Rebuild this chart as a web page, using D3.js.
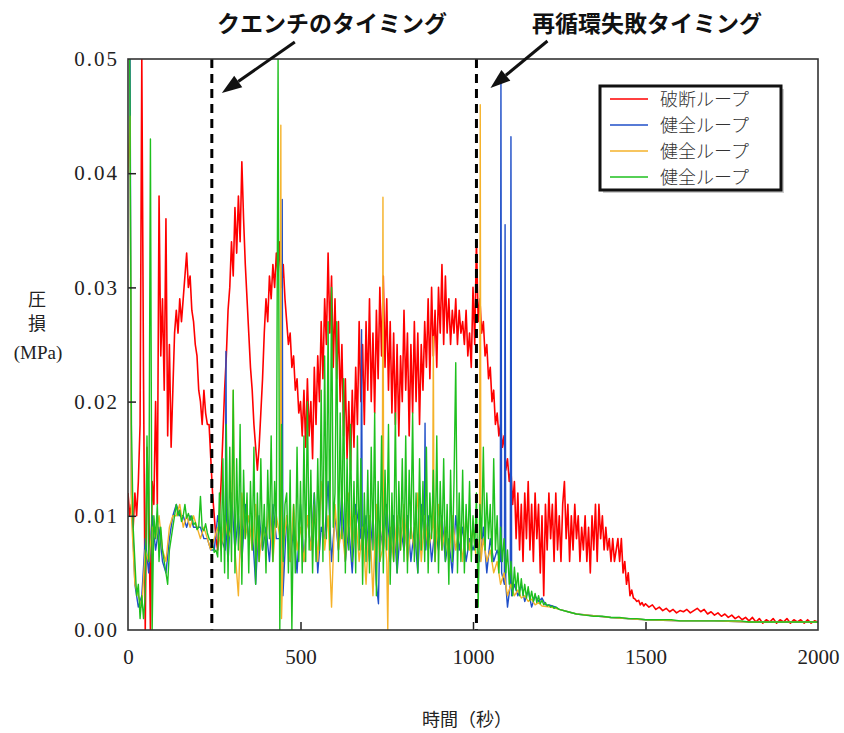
<!DOCTYPE html>
<html><head><meta charset="utf-8">
<script src="https://cdn.jsdelivr.net/npm/d3@7"></script>
<style>body{margin:0;background:#fff}svg{display:block}</style>
</head><body>
<svg id="c" width="844" height="733"></svg>
<script>
// ---------------- DATA ----------------
const xTicks = [0, 500, 1000, 1500, 2000];
const yTicks = [0, 0.01, 0.02, 0.03, 0.04, 0.05];
const seriesNames = ["破断ループ", "健全ループ", "健全ループ", "健全ループ"];
const seriesColors = ["#ff0000", "#1f4fc8", "#f5b22a", "#1ec01e"];
const quenchTime = 243;      // クエンチのタイミング
const recircFailTime = 1010; // 再循環失敗タイミング

// 破断ループ (red): 0-1500 s every 5 s, 1510-2000 s every 10 s
const redT = [...d3.range(0, 1505, 5), ...d3.range(1510, 2001, 10)];
const redV = [
 .012,.010,.011,.009,.012,.010,.013,.018,.050,.022,
 .000,.016,.012,.000,.013,.011,.020,.011,.038,.024,
 .029,.021,.036,.017,.025,.016,.021,.026,.028,.026,
 .029,.027,.029,.031,.033,.030,.031,.028,.027,.025,
 .024,.021,.020,.018,.021,.019,.018,.018,.015,.012,
 .010,.008,.007,.010,.013,.017,.021,.024,.028,.030,
 .034,.031,.037,.033,.038,.034,.041,.036,.032,.029,
 .026,.023,.021,.018,.016,.014,.016,.019,.022,.026,
 .029,.027,.031,.029,.032,.030,.033,.031,.034,.030,
 .032,.029,.027,.025,.026,.023,.024,.021,.022,.019,
 .020,.017,.021,.016,.022,.017,.020,.015,.023,.018,
 .024,.020,.027,.022,.029,.025,.033,.026,.031,.023,
 .029,.022,.027,.020,.025,.017,.022,.015,.020,.014,
 .021,.016,.023,.018,.027,.020,.025,.018,.027,.021,
 .029,.020,.026,.019,.028,.022,.030,.024,.031,.023,
 .029,.021,.027,.019,.026,.018,.025,.017,.024,.020,
 .028,.021,.026,.017,.025,.019,.027,.020,.026,.018,
 .025,.021,.027,.023,.029,.022,.030,.024,.028,.023,
 .030,.026,.032,.025,.031,.026,.029,.025,.028,.026,
 .029,.025,.028,.026,.027,.025,.028,.024,.026,.023,
 .030,.025,.034,.027,.029,.026,.027,.024,.025,.022,
 .023,.020,.021,.018,.019,.017,.018,.016,.017,.014,
 .015,.013,.014,.011,.013,.008,.012,.007,.011,.006,
 .012,.008,.013,.007,.011,.006,.012,.008,.011,.005,
 .010,.003,.011,.007,.012,.008,.011,.006,.012,.007,
 .010,.006,.011,.013,.008,.011,.006,.010,.007,.011,
 .008,.010,.006,.009,.007,.010,.006,.009,.005,.010,
 .007,.011,.006,.011,.008,.010,.007,.009,.007,.008,
 .006,.008,.006,.007,.008,.006,.008,.005,.006,.004,
 .005,.003,.0035,.0028,.0027,.0025,.0026,.0022,.0024,.0021,
 .0023,
 .0020,.0022,.0018,.0020,.0017,.0019,.0016,.0018,.0015,.0017,
 .0016,.0018,.0015,.0017,.0019,.0016,.0018,.0014,.0016,.0013,
 .0015,.0012,.0014,.0011,.0013,.0010,.0012,.0009,.0011,.0008,
 .0011,.0007,.0010,.0006,.0009,.0007,.0010,.0006,.0009,.0007,
 .0010,.0006,.0009,.0007,.0009,.0006,.0009,.0006,.0008,.0007
];

// 健全ループ (blue)
const blueT = [0,6,10,20,30,40,50,60,70,80,90,
 100,110,120,130,140,150,160,170,180,190,
 200,210,220,230,240,250,260,270,282,284,286,290,
 300,310,320,330,340,350,360,370,380,390,
 400,410,420,430,445,447,449,460,470,480,490,
 500,510,520,530,540,550,560,570,580,590,
 600,610,620,630,640,650,660,675,677,679,690,
 700,710,720,726,730,740,750,760,770,780,790,
 800,810,820,830,840,850,859,861,863,870,880,890,
 900,910,920,930,940,950,960,970,980,990,
 1000,1010,1020,1030,1040,1050,1060,1070,1079,1081,1083,1091,1093,1095,1100,1108,1110,1112,
 1120,1130,1140,1150,1160,1170,1180,1190,1200,1210,1220,1230,1240,1250,
 1300,1400,1500,1600,1700,1800,1900,2000];
const blueV = [.050,.050,.012,.004,.002,.003,.008,.005,.010,.007,.009,
 .006,.005,.008,.010,.011,.010,.010,.009,.010,.009,
 .009,.009,.008,.008,.007,.007,.010,.008,.007,.0244,.008,.006,
 .012,.007,.010,.006,.011,.008,.009,.004,.010,.007,
 .009,.006,.011,.008,.008,.0377,.003,.010,.006,.009,.005,
 .011,.006,.010,.007,.012,.005,.009,.008,.013,.006,
 .010,.007,.012,.006,.009,.005,.011,.008,.0263,.007,.010,
 .006,.010,.004,.0023,.009,.007,.011,.006,.010,.005,.009,
 .007,.010,.006,.009,.005,.011,.008,.0181,.007,.010,.006,.009,
 .007,.010,.006,.008,.005,.010,.007,.009,.006,.008,
 .007,.008,.006,.009,.005,.008,.006,.007,.006,.048,.005,.004,.0355,.004,.002,.004,.0432,.003,
 .004,.003,.004,.0025,.0035,.002,.003,.0025,.0028,.0022,.0022,.0021,.002,.0018,
 .0014,.0011,.0009,.0008,.0008,.0007,.0007,.0007];

// 健全ループ (orange)
const orangeT = [0,6,10,20,30,40,50,60,70,80,90,
 100,110,120,130,140,150,160,170,180,190,
 200,210,220,230,240,250,260,270,280,290,
 300,305,310,320,330,340,350,360,370,380,390,
 400,410,420,430,441,443,445,450,460,470,480,490,
 500,510,520,530,540,550,560,570,580,590,
 600,610,620,630,640,650,660,670,680,690,
 700,710,720,730,737,739,741,750,753,756,760,770,780,790,
 800,810,820,830,840,850,860,870,883,885,887,890,
 900,910,920,930,940,950,960,970,980,990,
 1000,1010,1019,1021,1023,1030,1040,1050,1060,1070,1080,1090,1100,
 1110,1120,1130,1140,1150,1160,1170,1180,1190,1200,1225,1250,
 1300,1400,1500,1600,1700,1800,1900,2000];
const orangeV = [.040,.045,.010,.004,.003,.002,.007,.006,.009,.008,.010,
 .007,.006,.009,.010,.010,.011,.009,.010,.009,.010,
 .009,.008,.009,.008,.007,.008,.009,.007,.010,.008,
 .009,.021,.007,.003,.012,.008,.010,.007,.011,.006,.009,
 .008,.011,.006,.010,.008,.0442,.001,.007,.010,.006,.011,.007,
 .009,.006,.010,.007,.011,.006,.013,.007,.010,.002,
 .011,.007,.009,.006,.012,.007,.010,.006,.009,.004,
 .010,.003,.011,.006,.007,.0379,.010,.006,.000,.008,.009,.006,.010,.007,
 .011,.006,.009,.007,.012,.006,.010,.007,.009,.0257,.008,.006,
 .011,.007,.009,.006,.010,.007,.009,.006,.010,.007,
 .009,.006,.008,.046,.006,.008,.006,.007,.005,.006,.004,.005,.003,
 .004,.003,.0035,.0028,.003,.0025,.0027,.0022,.0024,.0021,.002,.0018,
 .0014,.0011,.0009,.0008,.0008,.0007,.0007,.0007];

// 健全ループ (green): 0-1250 s every 5 s, 1275-2000 s every 25 s
const greenT = [...d3.range(0, 1255, 5), ...d3.range(1275, 2001, 25)];
const greenV = [
 .050,.050,.018,.009,.006,.003,.004,.001,.003,.001,
 .003,.017,.006,.043,.000,.010,.008,.011,.006,.009,
 .007,.006,.005,.004,.007,.008,.009,.010,.011,.010,
 .0105,.0095,.0100,.0110,.0098,.0102,.0096,.0100,.0092,.0094,
 .0088,.0090,.0117,.0089,.0087,.0093,.0085,.0080,.0078,.0075,
 .0068,.0070,.0064,.0120,.0060,.0150,.0050,.0180,.0045,.0160,
 .0060,.0210,.0050,.0150,.0070,.0180,.0040,.0140,.0080,.0120,
 .0050,.0130,.0070,.0160,.0040,.0120,.0060,.0150,.0070,.0110,
 .0050,.0140,.0080,.0170,.0060,.0130,.0090,.0500,.0000,.0180,
 .0060,.0110,.0120,.0050,.0140,.0000,.0110,.0050,.0160,.0060,
 .0130,.0050,.0170,.0060,.0200,.0070,.0140,.0050,.0120,.0060,
 .0150,.0070,.0210,.0060,.0240,.0080,.0270,.0070,.0300,.0090,
 .0120,.0270,.0060,.0190,.0080,.0220,.0050,.0150,.0070,.0180,
 .0060,.0130,.0050,.0170,.0070,.0150,.0040,.0120,.0060,.0140,
 .0050,.0160,.0070,.0190,.0030,.0130,.0060,.0170,.0050,.0140,
 .0070,.0180,.0040,.0120,.0060,.0190,.0050,.0130,.0070,.0150,
 .0060,.0170,.0050,.0140,.0080,.0190,.0060,.0120,.0050,.0150,
 .0070,.0130,.0060,.0160,.0050,.0120,.0080,.0140,.0060,.0170,
 .0050,.0130,.0070,.0150,.0060,.0110,.0040,.0140,.0060,.0130,
 .0234,.0050,.0120,.0060,.0140,.0050,.0110,.0070,.0130,.0060,
 .0100,.0070,.0120,.0020,.0110,.0080,.0160,.0070,.0120,.0080,
 .0110,.0060,.0150,.0070,.0100,.0050,.0090,.0060,.0080,.0050,
 .0070,.0040,.0060,.0030,.0055,.0035,.0050,.0030,.0045,.0030,
 .0040,.0028,.0038,.0026,.0034,.0025,.0032,.0024,.0030,.0023,
 .0026,.0022,.0024,.0021,.0022,.0020,.0021,.0019,.0020,.0019,
 .0018,
 .0016,.0014,.0013,.0012,.0012,.0011,.0011,.0010,.0010,.0009,
 .0009,.0009,.0009,.0008,.0008,.0008,.0008,.0008,.0008,.0008,
 .0008,.0007,.0007,.0007,.0007,.0007,.0007,.0007,.0007,.0007
];

// ---------------- CHART ----------------
const svg = d3.select("#c");
const x = d3.scaleLinear().domain([0, 2000]).range([128, 818]);
const y = d3.scaleLinear().domain([0, 0.05]).range([630, 59]);
const [x0, x1] = x.range(), [y0, y1] = y.range();

svg.append("defs").append("clipPath").attr("id", "clip")
  .append("rect").attr("x", x0).attr("y", y1).attr("width", x1 - x0).attr("height", y0 - y1);

const series = [
  {t: redT, v: redV}, {t: blueT, v: blueV}, {t: orangeT, v: orangeV}, {t: greenT, v: greenV}
];
const line = d3.line().x(d => x(d[0])).y(d => y(d[1]));
const g = svg.append("g").attr("clip-path", "url(#clip)");
series.forEach((s, i) => {
  const pts = d3.zip(s.t, s.v);
  g.append("path").datum(pts).attr("d", line)
    .attr("fill", "none").attr("stroke", seriesColors[i])
    .attr("stroke-width", i === 0 ? 1.6 : 1.4).attr("stroke-linejoin", "round");
});

// timing dashed lines
[quenchTime, recircFailTime].forEach(t => {
  svg.append("line").attr("x1", x(t)).attr("x2", x(t)).attr("y1", y1).attr("y2", y0)
    .attr("stroke", "#000").attr("stroke-width", 3).attr("stroke-dasharray", "9,6");
});

// axes
const yAxis = d3.axisLeft(y).tickValues(yTicks).tickSize(-8).tickPadding(9)
  .tickFormat(d3.format(".2f"));
const ya = svg.append("g").attr("transform", `translate(${x0},0)`).call(yAxis);
const xAxis = d3.axisBottom(x).tickValues(xTicks).tickSize(-8).tickPadding(19)
  .tickFormat(d3.format("d"));
const xa = svg.append("g").attr("transform", `translate(0,${y0})`).call(xAxis);
[ya, xa].forEach(a => {
  a.select(".domain").remove();
  a.selectAll(".tick line").attr("stroke", "#222").attr("stroke-width", 1.5);
  a.selectAll("text").attr("font-family", "'Liberation Serif', serif")
    .attr("font-size", 21).attr("fill", "#222");
});
ya.selectAll("text").attr("letter-spacing", "2px");
ya.selectAll(".tick").filter(d => d === 0 || d === 0.05).select("line").remove();
xa.selectAll(".tick").filter(d => d === 0 || d === 2000).select("line").remove();

// frame
svg.append("rect").attr("x", x0).attr("y", y1).attr("width", x1 - x0).attr("height", y0 - y1)
  .attr("fill", "none").attr("stroke", "#333").attr("stroke-width", 1.6);

// axis titles
const jp = "'Noto Sans CJK JP', sans-serif";
svg.append("text").attr("x", 37).attr("y", 306).attr("text-anchor", "middle")
  .attr("font-family", jp).attr("font-size", 18).attr("fill", "#222").text("圧");
svg.append("text").attr("x", 37).attr("y", 330).attr("text-anchor", "middle")
  .attr("font-family", jp).attr("font-size", 18).attr("fill", "#222").text("損");
svg.append("text").attr("x", 38).attr("y", 359).attr("text-anchor", "middle")
  .attr("font-family", "'Liberation Serif', serif").attr("font-size", 19).attr("fill", "#222").text("(MPa)");
svg.append("text").attr("x", 467).attr("y", 726).attr("text-anchor", "middle")
  .attr("font-family", jp).attr("font-size", 18).attr("fill", "#222").text("時間（秒）");

// annotations
function arrow(xa1, ya1, xa2, ya2) {
  const ang = Math.atan2(ya2 - ya1, xa2 - xa1), L = 20, Wd = 7;
  const bx = xa2 - L * Math.cos(ang), by = ya2 - L * Math.sin(ang);
  svg.append("line").attr("x1", xa1).attr("y1", ya1).attr("x2", bx).attr("y2", by)
    .attr("stroke", "#111").attr("stroke-width", 3);
  const px = -Math.sin(ang) * Wd, py = Math.cos(ang) * Wd;
  svg.append("polygon")
    .attr("points", `${xa2},${ya2} ${bx + px},${by + py} ${bx - px},${by - py}`)
    .attr("fill", "#111");
}
svg.append("text").attr("x", 332).attr("y", 32).attr("text-anchor", "middle")
  .attr("font-family", jp).attr("font-weight", 700).attr("font-size", 23).attr("fill", "#111")
  .text("クエンチのタイミング");
svg.append("text").attr("x", 647).attr("y", 32).attr("text-anchor", "middle")
  .attr("font-family", jp).attr("font-weight", 700).attr("font-size", 23).attr("fill", "#111")
  .text("再循環失敗タイミング");
arrow(x(quenchTime) + 83, 42, x(quenchTime) + 10, 93);
arrow(x(recircFailTime) + 71, 41, x(recircFailTime) + 14, 88);

// legend
const lg = svg.append("g");
lg.append("rect").attr("x", 603).attr("y", 89).attr("width", 181).attr("height", 104).attr("fill", "#ccc");
lg.append("rect").attr("x", 600).attr("y", 86).attr("width", 181).attr("height", 104)
  .attr("fill", "#fff").attr("stroke", "#111").attr("stroke-width", 3);
seriesNames.forEach((n, i) => {
  const yy = 99 + i * 26;
  lg.append("line").attr("x1", 610).attr("x2", 648).attr("y1", yy).attr("y2", yy)
    .attr("stroke", seriesColors[i]).attr("stroke-width", 1.6);
  lg.append("text").attr("x", 660).attr("y", yy + 7).attr("font-family", jp)
    .attr("font-weight", 300).attr("font-size", 18).attr("fill", "#333").text(n);
});
</script>
</body></html>
